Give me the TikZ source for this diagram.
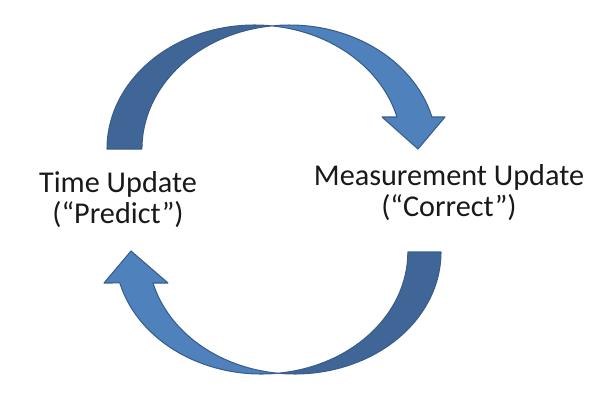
\documentclass[tikz,border=0pt]{standalone}
\usepackage{fontspec}
\setmainfont{Carlito}
\definecolor{arrowdark}{RGB}{64,102,152}
\definecolor{arrowlight}{RGB}{79,129,189}
\definecolor{arrowline}{RGB}{56,93,138}
\begin{document}
\begin{tikzpicture}[
    x=0.02cm, y=0.02cm,
    every node/.style={font=\fontsize{17.2}{17.6}\selectfont, align=center, text=black!90}
  ]

  \tikzset{
    back/.style={fill=arrowdark, draw=arrowline, line width=0.6pt, line join=round},
    front/.style={fill=arrowlight, draw=arrowline, line width=0.6pt, line join=round},
    upper/.style={x radius=147.5, y radius=124},
    lower/.style={x radius=146.4, y radius=122}
  }

  \useasboundingbox (0,0) rectangle (599,400);

  % seta de cima
  \path[back] (107,251) arc[upper, start angle=180, end angle=83.2]
    arc[upper, start angle=96.8, end angle=180] -- cycle;
  \path[front] (272,374.1) arc[upper, start angle=96.8, end angle=14.96]
    -- (445,283) -- (418,251) -- (382,283) -- (397,283)
    arc[upper, start angle=14.96, end angle=83.2] -- cycle;

  % seta de baixo
  \path[back] (441,148) arc[lower, start angle=0, end angle=-96.5]
    arc[lower, start angle=-83.5, end angle=0] -- cycle;
  \path[front] (278,26.8) arc[lower, start angle=-83.5, end angle=-165.3]
    -- (104,117) -- (131,149) -- (168,117) -- (153,117)
    arc[lower, start angle=-165.3, end angle=-96.5] -- cycle;

  % textos
  \node (time) at (118,200) {Time Update\\(“Predict”)};
  \node (meas) at (449,207) {Measurement Update\\(“Correct”)};

\end{tikzpicture}
\end{document}
